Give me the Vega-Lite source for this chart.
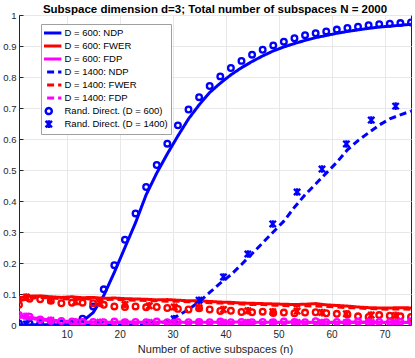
{
  "$schema": "https://vega.github.io/schema/vega-lite/v6.json",
  "autosize": {"type": "none"},
  "width": 392,
  "height": 310,
  "padding": {"left": 19, "top": 15, "right": 4, "bottom": 33},
  "background": "white",
  "title": {"text": "Subspace dimension d=3; Total number of subspaces N = 2000", "font": "Liberation Sans", "fontSize": 11.5, "fontWeight": "bold", "color": "#000000", "anchor": "middle", "frame": "group", "offset": 0, "dy": 5},
  "datasets": {
    "lines": [
      {"n":1,"v":0,"s":"D = 600: NDP"},{"n":3,"v":0,"s":"D = 600: NDP"},{"n":5,"v":0,"s":"D = 600: NDP"},{"n":7,"v":0,"s":"D = 600: NDP"},{"n":9,"v":0,"s":"D = 600: NDP"},{"n":11,"v":0.002,"s":"D = 600: NDP"},{"n":13,"v":0.012,"s":"D = 600: NDP"},{"n":15,"v":0.04,"s":"D = 600: NDP"},{"n":17,"v":0.095,"s":"D = 600: NDP"},{"n":19,"v":0.17,"s":"D = 600: NDP"},{"n":21,"v":0.25,"s":"D = 600: NDP"},{"n":23,"v":0.33,"s":"D = 600: NDP"},{"n":25,"v":0.42,"s":"D = 600: NDP"},{"n":27,"v":0.49,"s":"D = 600: NDP"},{"n":29,"v":0.552,"s":"D = 600: NDP"},{"n":31,"v":0.61,"s":"D = 600: NDP"},{"n":33,"v":0.665,"s":"D = 600: NDP"},{"n":35,"v":0.71,"s":"D = 600: NDP"},{"n":37,"v":0.75,"s":"D = 600: NDP"},{"n":39,"v":0.78,"s":"D = 600: NDP"},{"n":41,"v":0.807,"s":"D = 600: NDP"},{"n":43,"v":0.83,"s":"D = 600: NDP"},{"n":45,"v":0.85,"s":"D = 600: NDP"},{"n":47,"v":0.868,"s":"D = 600: NDP"},{"n":49,"v":0.884,"s":"D = 600: NDP"},{"n":51,"v":0.897,"s":"D = 600: NDP"},{"n":53,"v":0.908,"s":"D = 600: NDP"},{"n":55,"v":0.918,"s":"D = 600: NDP"},{"n":57,"v":0.927,"s":"D = 600: NDP"},{"n":59,"v":0.934,"s":"D = 600: NDP"},{"n":61,"v":0.941,"s":"D = 600: NDP"},{"n":63,"v":0.947,"s":"D = 600: NDP"},{"n":65,"v":0.952,"s":"D = 600: NDP"},{"n":67,"v":0.957,"s":"D = 600: NDP"},{"n":69,"v":0.961,"s":"D = 600: NDP"},{"n":71,"v":0.964,"s":"D = 600: NDP"},{"n":73,"v":0.967,"s":"D = 600: NDP"},{"n":75,"v":0.97,"s":"D = 600: NDP"},

      {"n":1,"v":0.088,"s":"D = 600: FWER"},{"n":3,"v":0.093,"s":"D = 600: FWER"},{"n":5,"v":0.094,"s":"D = 600: FWER"},{"n":7,"v":0.091,"s":"D = 600: FWER"},{"n":9,"v":0.089,"s":"D = 600: FWER"},{"n":11,"v":0.091,"s":"D = 600: FWER"},{"n":13,"v":0.088,"s":"D = 600: FWER"},{"n":15,"v":0.089,"s":"D = 600: FWER"},{"n":17,"v":0.086,"s":"D = 600: FWER"},{"n":19,"v":0.087,"s":"D = 600: FWER"},{"n":21,"v":0.085,"s":"D = 600: FWER"},{"n":23,"v":0.084,"s":"D = 600: FWER"},{"n":25,"v":0.083,"s":"D = 600: FWER"},{"n":27,"v":0.081,"s":"D = 600: FWER"},{"n":29,"v":0.082,"s":"D = 600: FWER"},{"n":31,"v":0.08,"s":"D = 600: FWER"},{"n":33,"v":0.078,"s":"D = 600: FWER"},{"n":35,"v":0.078,"s":"D = 600: FWER"},{"n":37,"v":0.076,"s":"D = 600: FWER"},{"n":39,"v":0.074,"s":"D = 600: FWER"},{"n":41,"v":0.073,"s":"D = 600: FWER"},{"n":43,"v":0.071,"s":"D = 600: FWER"},{"n":45,"v":0.07,"s":"D = 600: FWER"},{"n":47,"v":0.069,"s":"D = 600: FWER"},{"n":49,"v":0.068,"s":"D = 600: FWER"},{"n":51,"v":0.067,"s":"D = 600: FWER"},{"n":53,"v":0.066,"s":"D = 600: FWER"},{"n":55,"v":0.067,"s":"D = 600: FWER"},{"n":57,"v":0.069,"s":"D = 600: FWER"},{"n":59,"v":0.065,"s":"D = 600: FWER"},{"n":61,"v":0.063,"s":"D = 600: FWER"},{"n":63,"v":0.061,"s":"D = 600: FWER"},{"n":65,"v":0.058,"s":"D = 600: FWER"},{"n":67,"v":0.056,"s":"D = 600: FWER"},{"n":69,"v":0.055,"s":"D = 600: FWER"},{"n":71,"v":0.055,"s":"D = 600: FWER"},{"n":73,"v":0.056,"s":"D = 600: FWER"},{"n":75,"v":0.055,"s":"D = 600: FWER"},

      {"n":1,"v":0.03,"s":"D = 600: FDP"},{"n":3,"v":0.025,"s":"D = 600: FDP"},{"n":5,"v":0.02,"s":"D = 600: FDP"},{"n":7,"v":0.016,"s":"D = 600: FDP"},{"n":9,"v":0.013,"s":"D = 600: FDP"},{"n":11,"v":0.011,"s":"D = 600: FDP"},{"n":13,"v":0.01,"s":"D = 600: FDP"},{"n":15,"v":0.01,"s":"D = 600: FDP"},{"n":17,"v":0.009,"s":"D = 600: FDP"},{"n":19,"v":0.009,"s":"D = 600: FDP"},{"n":21,"v":0.01,"s":"D = 600: FDP"},{"n":23,"v":0.009,"s":"D = 600: FDP"},{"n":25,"v":0.009,"s":"D = 600: FDP"},{"n":27,"v":0.009,"s":"D = 600: FDP"},{"n":29,"v":0.01,"s":"D = 600: FDP"},{"n":31,"v":0.009,"s":"D = 600: FDP"},{"n":33,"v":0.009,"s":"D = 600: FDP"},{"n":35,"v":0.009,"s":"D = 600: FDP"},{"n":37,"v":0.009,"s":"D = 600: FDP"},{"n":39,"v":0.009,"s":"D = 600: FDP"},{"n":41,"v":0.009,"s":"D = 600: FDP"},{"n":43,"v":0.01,"s":"D = 600: FDP"},{"n":45,"v":0.009,"s":"D = 600: FDP"},{"n":47,"v":0.009,"s":"D = 600: FDP"},{"n":49,"v":0.009,"s":"D = 600: FDP"},{"n":51,"v":0.009,"s":"D = 600: FDP"},{"n":53,"v":0.01,"s":"D = 600: FDP"},{"n":55,"v":0.009,"s":"D = 600: FDP"},{"n":57,"v":0.009,"s":"D = 600: FDP"},{"n":59,"v":0.009,"s":"D = 600: FDP"},{"n":61,"v":0.009,"s":"D = 600: FDP"},{"n":63,"v":0.009,"s":"D = 600: FDP"},{"n":65,"v":0.01,"s":"D = 600: FDP"},{"n":67,"v":0.009,"s":"D = 600: FDP"},{"n":69,"v":0.009,"s":"D = 600: FDP"},{"n":71,"v":0.009,"s":"D = 600: FDP"},{"n":73,"v":0.009,"s":"D = 600: FDP"},{"n":75,"v":0.009,"s":"D = 600: FDP"},

      {"n":1,"v":0,"s":"D = 1400: NDP"},{"n":3,"v":0,"s":"D = 1400: NDP"},{"n":5,"v":0,"s":"D = 1400: NDP"},{"n":7,"v":0,"s":"D = 1400: NDP"},{"n":9,"v":0,"s":"D = 1400: NDP"},{"n":11,"v":0,"s":"D = 1400: NDP"},{"n":13,"v":0,"s":"D = 1400: NDP"},{"n":15,"v":0,"s":"D = 1400: NDP"},{"n":17,"v":0,"s":"D = 1400: NDP"},{"n":19,"v":0,"s":"D = 1400: NDP"},{"n":21,"v":0,"s":"D = 1400: NDP"},{"n":23,"v":0,"s":"D = 1400: NDP"},{"n":25,"v":0,"s":"D = 1400: NDP"},{"n":27,"v":0.003,"s":"D = 1400: NDP"},{"n":29,"v":0.012,"s":"D = 1400: NDP"},{"n":31,"v":0.03,"s":"D = 1400: NDP"},{"n":33,"v":0.05,"s":"D = 1400: NDP"},{"n":35,"v":0.075,"s":"D = 1400: NDP"},{"n":37,"v":0.105,"s":"D = 1400: NDP"},{"n":39,"v":0.135,"s":"D = 1400: NDP"},{"n":41,"v":0.162,"s":"D = 1400: NDP"},{"n":43,"v":0.195,"s":"D = 1400: NDP"},{"n":45,"v":0.23,"s":"D = 1400: NDP"},{"n":47,"v":0.265,"s":"D = 1400: NDP"},{"n":49,"v":0.3,"s":"D = 1400: NDP"},{"n":51,"v":0.335,"s":"D = 1400: NDP"},{"n":53,"v":0.38,"s":"D = 1400: NDP"},{"n":55,"v":0.42,"s":"D = 1400: NDP"},{"n":57,"v":0.455,"s":"D = 1400: NDP"},{"n":59,"v":0.49,"s":"D = 1400: NDP"},{"n":61,"v":0.525,"s":"D = 1400: NDP"},{"n":63,"v":0.565,"s":"D = 1400: NDP"},{"n":65,"v":0.595,"s":"D = 1400: NDP"},{"n":67,"v":0.62,"s":"D = 1400: NDP"},{"n":69,"v":0.645,"s":"D = 1400: NDP"},{"n":71,"v":0.665,"s":"D = 1400: NDP"},{"n":73,"v":0.678,"s":"D = 1400: NDP"},{"n":75,"v":0.69,"s":"D = 1400: NDP"},

      {"n":1,"v":0.078,"s":"D = 1400: FWER"},{"n":3,"v":0.086,"s":"D = 1400: FWER"},{"n":5,"v":0.089,"s":"D = 1400: FWER"},{"n":7,"v":0.087,"s":"D = 1400: FWER"},{"n":9,"v":0.085,"s":"D = 1400: FWER"},{"n":11,"v":0.084,"s":"D = 1400: FWER"},{"n":13,"v":0.086,"s":"D = 1400: FWER"},{"n":15,"v":0.083,"s":"D = 1400: FWER"},{"n":17,"v":0.082,"s":"D = 1400: FWER"},{"n":19,"v":0.083,"s":"D = 1400: FWER"},{"n":21,"v":0.081,"s":"D = 1400: FWER"},{"n":23,"v":0.08,"s":"D = 1400: FWER"},{"n":25,"v":0.079,"s":"D = 1400: FWER"},{"n":27,"v":0.078,"s":"D = 1400: FWER"},{"n":29,"v":0.077,"s":"D = 1400: FWER"},{"n":31,"v":0.077,"s":"D = 1400: FWER"},{"n":33,"v":0.075,"s":"D = 1400: FWER"},{"n":35,"v":0.074,"s":"D = 1400: FWER"},{"n":37,"v":0.072,"s":"D = 1400: FWER"},{"n":39,"v":0.071,"s":"D = 1400: FWER"},{"n":41,"v":0.07,"s":"D = 1400: FWER"},{"n":43,"v":0.068,"s":"D = 1400: FWER"},{"n":45,"v":0.066,"s":"D = 1400: FWER"},{"n":47,"v":0.066,"s":"D = 1400: FWER"},{"n":49,"v":0.064,"s":"D = 1400: FWER"},{"n":51,"v":0.063,"s":"D = 1400: FWER"},{"n":53,"v":0.062,"s":"D = 1400: FWER"},{"n":55,"v":0.062,"s":"D = 1400: FWER"},{"n":57,"v":0.061,"s":"D = 1400: FWER"},{"n":59,"v":0.06,"s":"D = 1400: FWER"},{"n":61,"v":0.058,"s":"D = 1400: FWER"},{"n":63,"v":0.056,"s":"D = 1400: FWER"},{"n":65,"v":0.055,"s":"D = 1400: FWER"},{"n":67,"v":0.053,"s":"D = 1400: FWER"},{"n":69,"v":0.052,"s":"D = 1400: FWER"},{"n":71,"v":0.051,"s":"D = 1400: FWER"},{"n":73,"v":0.052,"s":"D = 1400: FWER"},{"n":75,"v":0.051,"s":"D = 1400: FWER"},

      {"n":1,"v":0.027,"s":"D = 1400: FDP"},{"n":3,"v":0.022,"s":"D = 1400: FDP"},{"n":5,"v":0.017,"s":"D = 1400: FDP"},{"n":7,"v":0.013,"s":"D = 1400: FDP"},{"n":9,"v":0.011,"s":"D = 1400: FDP"},{"n":11,"v":0.009,"s":"D = 1400: FDP"},{"n":13,"v":0.008,"s":"D = 1400: FDP"},{"n":21,"v":0.008,"s":"D = 1400: FDP"},{"n":31,"v":0.008,"s":"D = 1400: FDP"},{"n":41,"v":0.008,"s":"D = 1400: FDP"},{"n":51,"v":0.008,"s":"D = 1400: FDP"},{"n":61,"v":0.008,"s":"D = 1400: FDP"},{"n":75,"v":0.008,"s":"D = 1400: FDP"}
    ],
    "pts": [
      {"n":1,"v":0.005,"m":"NDP","d":"600"},{"n":3,"v":0.005,"m":"NDP","d":"600"},{"n":5,"v":0.005,"m":"NDP","d":"600"},{"n":7,"v":0.005,"m":"NDP","d":"600"},{"n":9,"v":0.005,"m":"NDP","d":"600"},{"n":11,"v":0.005,"m":"NDP","d":"600"},{"n":13,"v":0.02,"m":"NDP","d":"600"},{"n":15,"v":0.06,"m":"NDP","d":"600"},{"n":17,"v":0.115,"m":"NDP","d":"600"},{"n":19,"v":0.193,"m":"NDP","d":"600"},{"n":21,"v":0.275,"m":"NDP","d":"600"},{"n":23,"v":0.36,"m":"NDP","d":"600"},{"n":25,"v":0.445,"m":"NDP","d":"600"},{"n":27,"v":0.516,"m":"NDP","d":"600"},{"n":29,"v":0.585,"m":"NDP","d":"600"},{"n":31,"v":0.644,"m":"NDP","d":"600"},{"n":33,"v":0.695,"m":"NDP","d":"600"},{"n":35,"v":0.735,"m":"NDP","d":"600"},{"n":37,"v":0.771,"m":"NDP","d":"600"},{"n":39,"v":0.802,"m":"NDP","d":"600"},{"n":41,"v":0.829,"m":"NDP","d":"600"},{"n":43,"v":0.852,"m":"NDP","d":"600"},{"n":45,"v":0.872,"m":"NDP","d":"600"},{"n":47,"v":0.888,"m":"NDP","d":"600"},{"n":49,"v":0.902,"m":"NDP","d":"600"},{"n":51,"v":0.914,"m":"NDP","d":"600"},{"n":53,"v":0.925,"m":"NDP","d":"600"},{"n":55,"v":0.935,"m":"NDP","d":"600"},{"n":57,"v":0.941,"m":"NDP","d":"600"},{"n":59,"v":0.947,"m":"NDP","d":"600"},{"n":61,"v":0.953,"m":"NDP","d":"600"},{"n":63,"v":0.958,"m":"NDP","d":"600"},{"n":65,"v":0.962,"m":"NDP","d":"600"},{"n":67,"v":0.967,"m":"NDP","d":"600"},{"n":69,"v":0.97,"m":"NDP","d":"600"},{"n":71,"v":0.972,"m":"NDP","d":"600"},{"n":73,"v":0.974,"m":"NDP","d":"600"},{"n":75,"v":0.976,"m":"NDP","d":"600"},

      {"n":2.4,"v":0.003,"m":"NDP","d":"1400"},{"n":7,"v":0.003,"m":"NDP","d":"1400"},{"n":11.7,"v":0.003,"m":"NDP","d":"1400"},{"n":16.3,"v":0.003,"m":"NDP","d":"1400"},{"n":21,"v":0.003,"m":"NDP","d":"1400"},{"n":25.6,"v":0.004,"m":"NDP","d":"1400"},{"n":30.3,"v":0.02,"m":"NDP","d":"1400"},{"n":35,"v":0.08,"m":"NDP","d":"1400"},{"n":39.6,"v":0.155,"m":"NDP","d":"1400"},{"n":44.2,"v":0.229,"m":"NDP","d":"1400"},{"n":48.9,"v":0.326,"m":"NDP","d":"1400"},{"n":53.5,"v":0.429,"m":"NDP","d":"1400"},{"n":58.2,"v":0.503,"m":"NDP","d":"1400"},{"n":62.8,"v":0.584,"m":"NDP","d":"1400"},{"n":67.5,"v":0.661,"m":"NDP","d":"1400"},{"n":72.1,"v":0.706,"m":"NDP","d":"1400"},

      {"n":1,"v":0.065,"m":"FWER","d":"600"},{"n":3,"v":0.085,"m":"FWER","d":"600"},{"n":5,"v":0.083,"m":"FWER","d":"600"},{"n":7,"v":0.078,"m":"FWER","d":"600"},{"n":9,"v":0.07,"m":"FWER","d":"600"},{"n":11,"v":0.072,"m":"FWER","d":"600"},{"n":13,"v":0.072,"m":"FWER","d":"600"},{"n":15,"v":0.07,"m":"FWER","d":"600"},{"n":17,"v":0.065,"m":"FWER","d":"600"},{"n":19,"v":0.06,"m":"FWER","d":"600"},{"n":21,"v":0.058,"m":"FWER","d":"600"},{"n":23,"v":0.06,"m":"FWER","d":"600"},{"n":25,"v":0.057,"m":"FWER","d":"600"},{"n":27,"v":0.058,"m":"FWER","d":"600"},{"n":29,"v":0.055,"m":"FWER","d":"600"},{"n":31,"v":0.052,"m":"FWER","d":"600"},{"n":33,"v":0.05,"m":"FWER","d":"600"},{"n":35,"v":0.054,"m":"FWER","d":"600"},{"n":37,"v":0.05,"m":"FWER","d":"600"},{"n":39,"v":0.045,"m":"FWER","d":"600"},{"n":41,"v":0.046,"m":"FWER","d":"600"},{"n":43,"v":0.042,"m":"FWER","d":"600"},{"n":45,"v":0.041,"m":"FWER","d":"600"},{"n":47,"v":0.043,"m":"FWER","d":"600"},{"n":49,"v":0.039,"m":"FWER","d":"600"},{"n":51,"v":0.04,"m":"FWER","d":"600"},{"n":53,"v":0.038,"m":"FWER","d":"600"},{"n":55,"v":0.04,"m":"FWER","d":"600"},{"n":57,"v":0.041,"m":"FWER","d":"600"},{"n":59,"v":0.038,"m":"FWER","d":"600"},{"n":61,"v":0.036,"m":"FWER","d":"600"},{"n":63,"v":0.034,"m":"FWER","d":"600"},{"n":65,"v":0.028,"m":"FWER","d":"600"},{"n":67,"v":0.026,"m":"FWER","d":"600"},{"n":69,"v":0.032,"m":"FWER","d":"600"},{"n":71,"v":0.03,"m":"FWER","d":"600"},{"n":73,"v":0.028,"m":"FWER","d":"600"},{"n":75,"v":0.026,"m":"FWER","d":"600"},

      {"n":2.4,"v":0.09,"m":"FWER","d":"1400"},{"n":7,"v":0.08,"m":"FWER","d":"1400"},{"n":11.7,"v":0.075,"m":"FWER","d":"1400"},{"n":16.3,"v":0.07,"m":"FWER","d":"1400"},{"n":21,"v":0.066,"m":"FWER","d":"1400"},{"n":25.6,"v":0.062,"m":"FWER","d":"1400"},{"n":30.3,"v":0.058,"m":"FWER","d":"1400"},{"n":35,"v":0.056,"m":"FWER","d":"1400"},{"n":39.6,"v":0.05,"m":"FWER","d":"1400"},{"n":44.2,"v":0.046,"m":"FWER","d":"1400"},{"n":48.9,"v":0.043,"m":"FWER","d":"1400"},{"n":53.5,"v":0.045,"m":"FWER","d":"1400"},{"n":58.2,"v":0.04,"m":"FWER","d":"1400"},{"n":62.8,"v":0.036,"m":"FWER","d":"1400"},{"n":67.5,"v":0.032,"m":"FWER","d":"1400"},{"n":72.1,"v":0.031,"m":"FWER","d":"1400"},

      {"n":1,"v":0.032,"m":"FDP","d":"600"},{"n":3,"v":0.027,"m":"FDP","d":"600"},{"n":5,"v":0.018,"m":"FDP","d":"600"},{"n":7,"v":0.014,"m":"FDP","d":"600"},{"n":9,"v":0.013,"m":"FDP","d":"600"},{"n":11,"v":0.011,"m":"FDP","d":"600"},{"n":13,"v":0.01,"m":"FDP","d":"600"},{"n":15,"v":0.01,"m":"FDP","d":"600"},{"n":17,"v":0.009,"m":"FDP","d":"600"},{"n":19,"v":0.011,"m":"FDP","d":"600"},{"n":21,"v":0.009,"m":"FDP","d":"600"},{"n":23,"v":0.01,"m":"FDP","d":"600"},{"n":25,"v":0.009,"m":"FDP","d":"600"},{"n":27,"v":0.011,"m":"FDP","d":"600"},{"n":29,"v":0.009,"m":"FDP","d":"600"},{"n":31,"v":0.01,"m":"FDP","d":"600"},{"n":33,"v":0.009,"m":"FDP","d":"600"},{"n":35,"v":0.01,"m":"FDP","d":"600"},{"n":37,"v":0.009,"m":"FDP","d":"600"},{"n":39,"v":0.011,"m":"FDP","d":"600"},{"n":41,"v":0.009,"m":"FDP","d":"600"},{"n":43,"v":0.01,"m":"FDP","d":"600"},{"n":45,"v":0.009,"m":"FDP","d":"600"},{"n":47,"v":0.01,"m":"FDP","d":"600"},{"n":49,"v":0.009,"m":"FDP","d":"600"},{"n":51,"v":0.011,"m":"FDP","d":"600"},{"n":53,"v":0.01,"m":"FDP","d":"600"},{"n":55,"v":0.009,"m":"FDP","d":"600"},{"n":57,"v":0.012,"m":"FDP","d":"600"},{"n":59,"v":0.009,"m":"FDP","d":"600"},{"n":61,"v":0.01,"m":"FDP","d":"600"},{"n":63,"v":0.009,"m":"FDP","d":"600"},{"n":65,"v":0.011,"m":"FDP","d":"600"},{"n":67,"v":0.009,"m":"FDP","d":"600"},{"n":69,"v":0.01,"m":"FDP","d":"600"},{"n":71,"v":0.009,"m":"FDP","d":"600"},{"n":73,"v":0.01,"m":"FDP","d":"600"},{"n":75,"v":0.012,"m":"FDP","d":"600"},

      {"n":2.4,"v":0.028,"m":"FDP","d":"1400"},{"n":7,"v":0.015,"m":"FDP","d":"1400"},{"n":11.7,"v":0.01,"m":"FDP","d":"1400"},{"n":16.3,"v":0.009,"m":"FDP","d":"1400"},{"n":21,"v":0.008,"m":"FDP","d":"1400"},{"n":25.6,"v":0.008,"m":"FDP","d":"1400"},{"n":30.3,"v":0.008,"m":"FDP","d":"1400"},{"n":35,"v":0.008,"m":"FDP","d":"1400"},{"n":39.6,"v":0.008,"m":"FDP","d":"1400"},{"n":44.2,"v":0.008,"m":"FDP","d":"1400"},{"n":48.9,"v":0.008,"m":"FDP","d":"1400"},{"n":53.5,"v":0.008,"m":"FDP","d":"1400"},{"n":58.2,"v":0.008,"m":"FDP","d":"1400"},{"n":62.8,"v":0.008,"m":"FDP","d":"1400"},{"n":67.5,"v":0.008,"m":"FDP","d":"1400"},{"n":72.1,"v":0.008,"m":"FDP","d":"1400"}
    ]
  },
  "layer": [
    {
      "data": {"name": "lines"},
      "mark": {"type": "line", "strokeWidth": 3, "clip": true},
      "encoding": {
        "x": {"field": "n", "type": "quantitative", "scale": {"domain": [1, 75], "nice": false},
          "axis": {"title": "Number of active subspaces (n)", "values": [10, 20, 30, 40, 50, 60, 70], "labelOverlap": false, "grid": true, "tickSize": -4, "labelPadding": 8, "titlePadding": 4}},
        "y": {"field": "v", "type": "quantitative", "scale": {"domain": [0, 1], "nice": false},
          "axis": {"title": null, "values": [0, 0.1, 0.2, 0.3, 0.4, 0.5, 0.6, 0.7, 0.8, 0.9, 1], "tickCount": 11, "format": ".1~f", "labelOverlap": false, "labelFontSize": 9.5, "grid": true, "tickSize": -4, "labelPadding": 7}},
        "color": {"field": "s", "type": "nominal",
          "scale": {"domain": ["D = 600: NDP", "D = 600: FWER", "D = 600: FDP", "D = 1400: NDP", "D = 1400: FWER", "D = 1400: FDP", "Rand. Direct. (D = 600)", "Rand. Direct. (D = 1400)"],
                    "range": ["#0000ff", "#ff0000", "#ff00ff", "#0000ff", "#ff0000", "#ff00ff", "#0000ff", "#0000ff"]},
          "legend": {
            "title": null, "orient": "none", "legendX": 22, "legendY": 9,
            "symbolType": "stroke", "symbolSize": 729, "symbolStrokeWidth": 3,
            "labelFont": "Liberation Sans", "labelFontSize": 9.5, "labelColor": "#000000", "labelOffset": 11,
            "clipHeight": 12.2, "rowPadding": 0,
            "padding": 3, "strokeColor": "#a0a0a0", "fillColor": "white", "cornerRadius": 0,
            "encode": {"symbols": {"update": {
              "shape": {"signal": "datum.index == 6 ? 'circle' : datum.index == 7 ? 'M-1,-1L1,1M1,-1L-1,1M0,-1.2L0,1.2' : 'stroke'"},
              "size": {"signal": "datum.index == 6 ? 36 : datum.index == 7 ? 40 : 640"},
              "strokeDash": {"signal": "datum.index >= 3 && datum.index <= 5 ? [7, 4] : [1, 0]"},
              "strokeWidth": {"signal": "datum.index >= 6 ? 2.5 : 3"},
              "fill": {"value": "transparent"},
              "opacity": {"value": 1}
            }}}
          }},
        "strokeDash": {"field": "s", "type": "nominal", "legend": null,
          "scale": {"domain": ["D = 600: NDP", "D = 600: FWER", "D = 600: FDP", "D = 1400: NDP", "D = 1400: FWER", "D = 1400: FDP"],
                    "range": [[1, 0], [1, 0], [1, 0], [7, 4], [7, 4], [7, 4]]}}
      }
    },
    {
      "data": {"name": "pts"},
      "mark": {"type": "point", "filled": false, "strokeWidth": 2.3, "opacity": 1, "clip": true},
      "encoding": {
        "x": {"field": "n", "type": "quantitative",
          "axis": {"title": "Number of active subspaces (n)", "values": [10, 20, 30, 40, 50, 60, 70], "labelOverlap": false, "grid": true, "tickSize": -4, "labelPadding": 8, "titlePadding": 4}},
        "y": {"field": "v", "type": "quantitative",
          "axis": {"title": null, "values": [0, 0.1, 0.2, 0.3, 0.4, 0.5, 0.6, 0.7, 0.8, 0.9, 1], "tickCount": 11, "format": ".1~f", "labelOverlap": false, "labelFontSize": 9.5, "grid": true, "tickSize": -4, "labelPadding": 7}},
        "color": {"field": "m", "type": "nominal", "legend": null,
          "scale": {"domain": ["NDP", "FWER", "FDP"], "range": ["#0000ff", "#ff0000", "#ff00ff"]}},
        "shape": {"field": "d", "type": "nominal", "legend": null,
          "scale": {"domain": ["600", "1400"], "range": ["circle", "M-1,-1L1,1M1,-1L-1,1M0,-1.2L0,1.2"]}},
        "size": {"field": "d", "type": "ordinal", "legend": null,
          "scale": {"domain": ["600", "1400"], "range": [32, 40]}}
      }
    }
  ],
  "resolve": {"scale": {"color": "independent"}},
  "config": {
    "view": {"stroke": "#262626", "strokeWidth": 1},
    "axis": {"labelFont": "Liberation Sans", "labelFontSize": 10, "labelColor": "#262626", "titleFont": "Liberation Sans", "titleFontSize": 11, "titleFontWeight": "normal", "titleColor": "#262626", "gridColor": "#e8e8e8", "gridWidth": 1, "domainColor": "#262626", "tickColor": "#262626"}
  }
}
